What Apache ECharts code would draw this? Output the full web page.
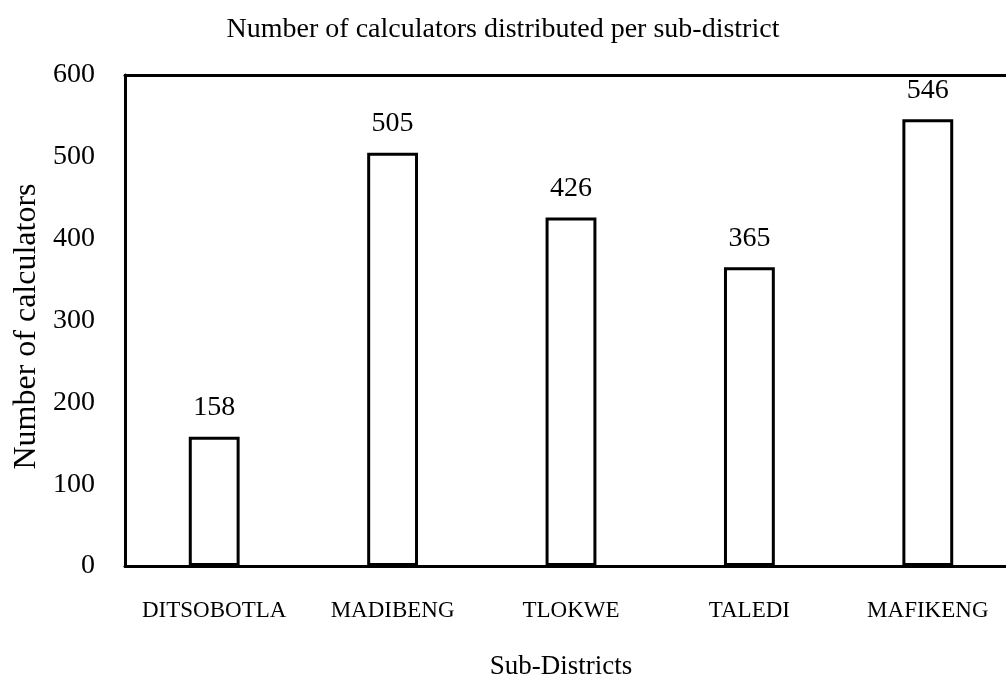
<!DOCTYPE html>
<html><head><meta charset="utf-8">
<script src="https://cdn.jsdelivr.net/npm/echarts@6/dist/echarts.min.js"></script>
<style>html,body{margin:0;padding:0;background:#fff}#c{width:1006px;height:684px}</style>
</head><body><div id="c"></div>
<script>
const categories = ["DITSOBOTLA", "MADIBENG", "TLOKWE", "TALEDI", "MAFIKENG"];
const calculators = [158, 505, 426, 365, 546];
const yTicks = [0, 100, 200, 300, 400, 500, 600];

const font = "'Liberation Serif', 'Times New Roman', serif";
const chart = echarts.init(document.getElementById('c'), null, {renderer: 'canvas'});
chart.setOption({
  animation: false,
  backgroundColor: '#fff',
  title: {
    text: 'Number of calculators distributed per sub-district',
    left: 'center', top: 11,
    textStyle: {fontFamily: font, fontSize: 28, fontWeight: 'normal', color: '#000'}
  },
  grid: {left: 125, top: 75, width: 892, height: 491, outerBoundsMode: 'none', containLabel: false},
  xAxis: [{
    type: 'category', data: categories,
    axisLine: {lineStyle: {color: '#000', width: 3}},
    axisTick: {show: false},
    axisLabel: {fontFamily: font, fontSize: 23, color: '#000', margin: 33, interval: 0, hideOverlap: false},
    name: 'Sub-Districts', nameLocation: 'middle', nameGap: 87,
    nameTextStyle: {fontFamily: font, fontSize: 27, color: '#000', padding: [0, 20, 0, 0]}
  }, {
    type: 'category', data: categories, position: 'top',
    axisLine: {lineStyle: {color: '#000', width: 3}},
    axisTick: {show: false}, axisLabel: {show: false}
  }],
  yAxis: {
    type: 'value', min: yTicks[0], max: yTicks[yTicks.length - 1], interval: 100,
    axisLine: {show: true, lineStyle: {color: '#000', width: 3}},
    axisTick: {show: false},
    splitLine: {show: false},
    axisLabel: {fontFamily: font, fontSize: 28, color: '#000', margin: 30},
    name: 'Number of calculators', nameLocation: 'middle', nameGap: 77,
    nameTextStyle: {fontFamily: font, fontSize: 32, color: '#000', padding: [0, 12, 0, 0]}
  },
  series: [{
    type: 'bar', data: calculators, barWidth: '28.5%',
    itemStyle: {color: '#fff', borderColor: '#000', borderWidth: 3},
    label: {show: true, position: 'top', distance: 15, fontFamily: font, fontSize: 28, color: '#000'}
  }]
});
</script></body></html>
